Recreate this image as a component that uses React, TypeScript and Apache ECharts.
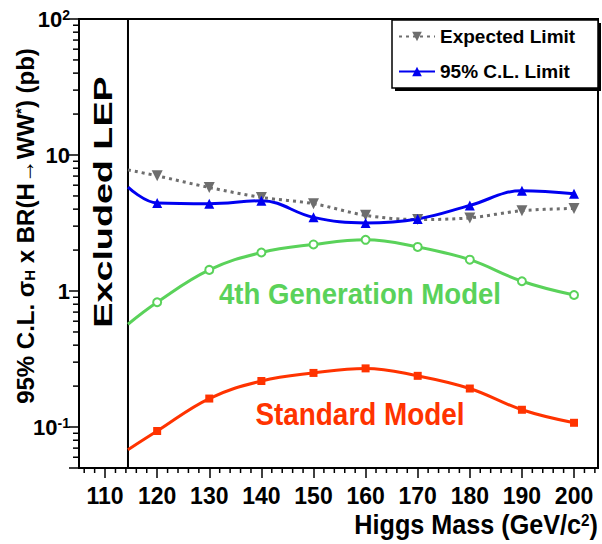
import React, { useEffect, useRef } from 'react';
import * as echarts from 'echarts';

// ---- data ----
const masses = [120, 130, 140, 150, 160, 170, 180, 190, 200];
const lepLimit = 114.4;
const smValues = [0.0935, 0.162, 0.218, 0.25, 0.27, 0.238, 0.192, 0.134, 0.1075];
const smAtLep = 0.0682;
const g4Values = [0.827, 1.43, 1.92, 2.2, 2.38, 2.11, 1.7, 1.18, 0.935];
const g4AtLep = 0.57;
const expValues = [7.03, 5.77, 4.88, 4.39, 3.6, 3.35, 3.45, 3.9, 4.05];
const expAtLep = 7.78;
const obsValues = [4.44, 4.39, 4.61, 3.48, 3.17, 3.39, 4.26, 5.46, 5.19];
const obsAtLep = 5.81;

const xMin = 105;
const xMax = 204.6;
const yMin = 0.05;
const yMax = 100;
const yMajorLabels: Record<string, string> = {
  '-1': '{n|10}{s|-1}',
  '0': '{n|1}',
  '1': '{n|10}',
  '2': '{n|10}{s|2}',
};
const yMinorTicks = [0.06, 0.07, 0.08, 0.09, 0.2, 0.3, 0.4, 0.5, 0.6, 0.7, 0.8, 0.9, 2, 3, 4, 5, 6, 7, 8, 9, 20, 30, 40, 50, 60, 70, 80, 90];
const xMinorTicks = [106, 108, 112, 114, 116, 118, 122, 124, 126, 128, 132, 134, 136, 138, 142, 144, 146, 148, 152, 154, 156, 158, 162, 164, 166, 168, 172, 174, 176, 178, 182, 184, 186, 188, 192, 194, 196, 198, 202, 204];

const NARROW = "'Liberation Sans Narrow', 'Arial Narrow', 'Liberation Sans', Arial, sans-serif";
const SANS = "'Liberation Sans', Arial, Helvetica, sans-serif";

const RED = '#ff3300';
const GREEN = '#5ad25a';
const BLUE = '#0000f0';
const GREY = '#6e6e6e';

function withLep(atLep: number, vals: number[]) {
  return [
    { value: [lepLimit, atLep], symbol: 'none' },
    ...masses.map((m, i) => ({ value: [m, vals[i]] })),
  ];
}

export default function App() {
  const ref = useRef<HTMLDivElement>(null);
  useEffect(() => {
    document.body.style.margin = '0';
    const chart = echarts.init(ref.current!, undefined, { renderer: 'svg' });
    const tickRender = (dir: 'x' | 'y', len: number) => (params: any, api: any) => {
      const p = api.coord([api.value(0), api.value(1)]);
      const shape =
        dir === 'y'
          ? { x1: p[0] - len, y1: p[1], x2: p[0], y2: p[1] }
          : { x1: p[0], y1: p[1], x2: p[0], y2: p[1] + len };
      return { type: 'line', shape, style: { stroke: '#000', lineWidth: 1.5 } };
    };
    chart.setOption({
      animation: false,
      grid: { left: 79, right: 4, top: 19, bottom: 76, show: true, borderColor: '#000', borderWidth: 2, backgroundColor: '#fff' },
      xAxis: {
        type: 'value',
        min: xMin,
        max: xMax,
        splitNumber: 10,
        splitLine: { show: false },
        axisLine: { lineStyle: { color: '#000', width: 2 } },
        axisTick: { length: 10, lineStyle: { color: '#000', width: 1.5 } },
        axisLabel: {
          margin: 16,
          color: '#000',
          fontSize: 23,
          fontWeight: 'bold',
          fontFamily: NARROW,
          showMinLabel: false,
          showMaxLabel: false,
          formatter: (v: number) => (Math.abs(v % 10) < 1e-6 ? String(v) : ''),
        },
      },
      yAxis: {
        type: 'log',
        logBase: 10,
        min: yMin,
        max: yMax,
        splitLine: { show: false },
        axisLine: { lineStyle: { color: '#000', width: 2 } },
        axisTick: { length: 10, lineStyle: { color: '#000', width: 1.5 } },
        axisLabel: {
          margin: 9,
          color: '#000',
          formatter: (v: number) => {
            const l = Math.log10(v);
            const e = Math.round(l);
            if (Math.abs(l - e) > 1e-6) return '';
            return yMajorLabels[String(e)] || '';
          },
          rich: {
            n: { fontSize: 22, fontWeight: 'bold', fontFamily: NARROW, color: '#000' },
            s: { fontSize: 14, fontWeight: 'bold', fontFamily: NARROW, color: '#000', verticalAlign: 'top' },
          },
        },
      },
      legend: {
        data: ['Expected Limit', '95% C.L. Limit'],
        orient: 'vertical',
        left: 398,
        top: 27,
        itemGap: 16,
        itemWidth: 36,
        itemHeight: 12,
        padding: 0,
        textStyle: { fontSize: 19, fontWeight: 'bold', color: '#000', fontFamily: NARROW },
      },
      graphic: [
        { type: 'rect', z: 1, shape: { x: 395, y: 23, width: 206, height: 68 }, style: { fill: '#000' } },
        { type: 'rect', z: 1, shape: { x: 392, y: 20, width: 206, height: 68 }, style: { fill: '#fff', stroke: '#000', lineWidth: 1.5 } },
        {
          type: 'text', z: 10, x: 103, y: 202, rotation: Math.PI / 2, scaleX: 1.45,
          style: { text: 'Excluded LEP', fill: '#000', font: `bold 26px ${SANS}`, align: 'center', verticalAlign: 'middle' },
        },
        {
          type: 'text', z: 10, x: 25, y: 226, rotation: Math.PI / 2,
          style: {
            text: '95% C.L. σ{sub|H} x BR(H→WW{sup|*}) (pb)',
            fill: '#000', font: `bold 24px ${SANS}`, align: 'center', verticalAlign: 'middle',
            rich: {
              sub: { fontSize: 15, fontWeight: 'bold', fontFamily: SANS, verticalAlign: 'bottom', fill: '#000' },
              sup: { fontSize: 15, fontWeight: 'bold', fontFamily: SANS, verticalAlign: 'top', fill: '#000' },
            },
          },
        },
        {
          type: 'text', z: 10, x: 598, y: 525, scaleX: 0.9,
          style: {
            text: 'Higgs Mass (GeV/c{sup|2})',
            fill: '#000', font: `bold 28px ${SANS}`, align: 'right', verticalAlign: 'middle',
            rich: { sup: { fontSize: 17, fontWeight: 'bold', fontFamily: SANS, verticalAlign: 'top', fill: '#000' } },
          },
        },
        {
          type: 'text', z: 10, x: 360, y: 294, scaleX: 0.92,
          style: { text: '4th Generation Model', fill: GREEN, font: `bold 30px ${SANS}`, align: 'center', verticalAlign: 'middle' },
        },
        {
          type: 'text', z: 10, x: 360, y: 414, scaleX: 0.9,
          style: { text: 'Standard Model', fill: RED, font: `bold 31px ${SANS}`, align: 'center', verticalAlign: 'middle' },
        },
      ],
      series: [
        {
          name: 'Standard Model', type: 'line', smooth: 0.4, data: withLep(smAtLep, smValues),
          symbol: 'rect', symbolSize: 8, lineStyle: { color: RED, width: 3 }, itemStyle: { color: RED },
          markArea: {
            silent: true,
            itemStyle: { color: 'rgba(0,0,0,0)', borderColor: '#000', borderWidth: 2 },
            data: [[{ coord: [xMin, yMin] }, { coord: [lepLimit, yMax] }]],
          },
        },
        {
          name: '4th Generation Model', type: 'line', smooth: 0.4, data: withLep(g4AtLep, g4Values),
          symbol: 'emptyCircle', symbolSize: 8, lineStyle: { color: GREEN, width: 3 }, itemStyle: { color: GREEN, borderWidth: 1 },
        },
        {
          name: 'Expected Limit', type: 'line', smooth: 0.3, data: withLep(expAtLep, expValues),
          symbol: 'triangle', symbolRotate: 180, symbolSize: 11,
          lineStyle: { color: GREY, width: 3, type: [3, 4] }, itemStyle: { color: GREY },
        },
        {
          name: '95% C.L. Limit', type: 'line', smooth: 0.4, data: withLep(obsAtLep, obsValues),
          symbol: 'triangle', symbolSize: 10, lineStyle: { color: BLUE, width: 3 }, itemStyle: { color: BLUE },
        },
        {
          type: 'custom', clip: false, silent: true, z: 5,
          data: yMinorTicks.map((v) => [xMin, v]),
          renderItem: tickRender('y', 6),
        },
        {
          type: 'custom', clip: false, silent: true, z: 5,
          data: xMinorTicks.map((v) => [v, yMin]),
          renderItem: tickRender('x', 5),
        },
      ],
    });
    return () => chart.dispose();
  }, []);
  return <div ref={ref} style={{ width: 602, height: 544 }} />;
}
